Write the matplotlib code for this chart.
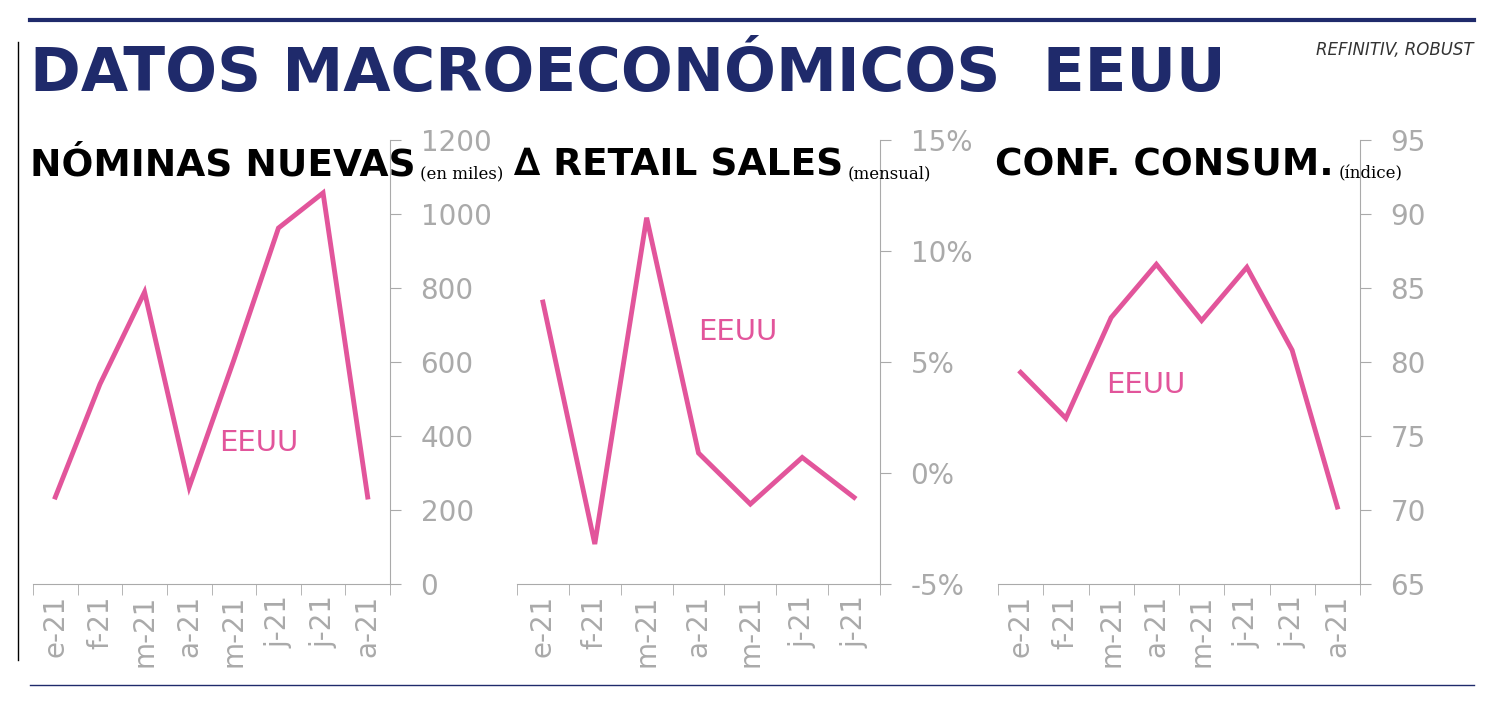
import matplotlib.pyplot as plt
import numpy as np

months_1 = ['e-21', 'f-21', 'm-21', 'a-21', 'm-21', 'j-21', 'j-21', 'a-21']
nominas = [235, 540, 789, 262, 605, 962, 1057, 235]

months_2 = ['e-21', 'f-21', 'm-21', 'a-21', 'm-21', 'j-21', 'j-21']
retail = [7.7, -3.2, 11.5, 0.9, -1.4, 0.7, -1.1]

months_3 = ['e-21', 'f-21', 'm-21', 'a-21', 'm-21', 'j-21', 'j-21', 'a-21']
confianza = [79.3, 76.2, 83.0, 86.6, 82.8, 86.4, 80.8, 70.2]

PINK = '#e2559b'
NAVY = '#1f2a6b'
GREY = '#aaaaaa'
NARROW = ['Liberation Sans Narrow', 'DejaVu Sans']
W, H = 1504, 707

fig = plt.figure(figsize=(15.04, 7.07), dpi=100)


def fx(px):
    return px / W


def fy(py):
    return 1 - py / H


def panel(x0, x1, months, values, ylim, yticks, ylabels, title, sub, label_xy):
    ax = fig.add_axes([fx(x0), fy(584), fx(x1 - x0), fy(140) - fy(584)])
    n = len(months)
    xs = np.arange(n)
    ax.plot(xs, values, color=PINK, lw=3.5, solid_joinstyle='miter')
    ax.set_xlim(-0.5, n - 0.5)
    ax.set_ylim(*ylim)
    ax.set_yticks(yticks)
    ax.set_yticklabels(ylabels)
    ax.set_xticks(xs)
    ax.set_xticklabels(months, rotation=90)
    ax.set_xticks(np.arange(n + 1) - 0.5, minor=True)
    ax.tick_params(axis='x', which='major', length=0, labelsize=20, labelcolor=GREY, pad=8)
    ax.tick_params(axis='x', which='minor', length=8, color=GREY)
    ax.yaxis.tick_right()
    ax.tick_params(axis='y', length=8, color=GREY, labelsize=20, labelcolor=GREY, pad=14)
    for s in ['top', 'left']:
        ax.spines[s].set_visible(False)
    for s in ['right', 'bottom']:
        ax.spines[s].set_color(GREY)
    ax.set_facecolor('none')
    ax.text(label_xy[0], label_xy[1], 'EEUU', color=PINK, fontsize=21,
            transform=ax.transAxes)
    t = fig.text(fx(x0 - 3), fy(166), title, fontsize=27, weight='bold',
                 family=NARROW, va='center', color='black')
    fig.canvas.draw()
    bb = t.get_window_extent()
    fig.text(bb.x1 / W + 0.003, fy(174), sub, fontsize=12, family='DejaVu Serif',
             va='center', color='black')
    return ax


panel(33, 390, months_1, nominas, (0, 1200), [0, 200, 400, 600, 800, 1000, 1200],
      ['0', '200', '400', '600', '800', '1000', '1200'],
      'NÓMINAS NUEVAS', '(en miles)', (0.52, 0.3))
panel(517, 880, months_2, retail, (-5, 15), [-5, 0, 5, 10, 15],
      ['-5%', '0%', '5%', '10%', '15%'],
      '∆ RETAIL SALES', '(mensual)', (0.5, 0.55))
panel(998, 1360, months_3, confianza, (65, 95), [65, 70, 75, 80, 85, 90, 95],
      ['65', '70', '75', '80', '85', '90', '95'],
      'CONF. CONSUM.', '(índice)', (0.3, 0.43))

fig.text(fx(30), fy(75), 'DATOS MACROECONÓMICOS  EEUU', fontsize=44, weight='bold',
         family=NARROW, color=NAVY, va='center')
fig.text(fx(1474), fy(50), 'REFINITIV, ROBUST', fontsize=12, style='italic',
         ha='right', va='center', color='#333333')

fig.add_artist(plt.Line2D([fx(30), fx(1474)], [fy(20), fy(20)], color=NAVY, lw=3))
fig.add_artist(plt.Line2D([fx(30), fx(1474)], [fy(685), fy(685)], color=NAVY, lw=1))
fig.add_artist(plt.Line2D([fx(18), fx(18)], [fy(42), fy(660)], color='black', lw=1))

fig.savefig('out.png', dpi=100)
